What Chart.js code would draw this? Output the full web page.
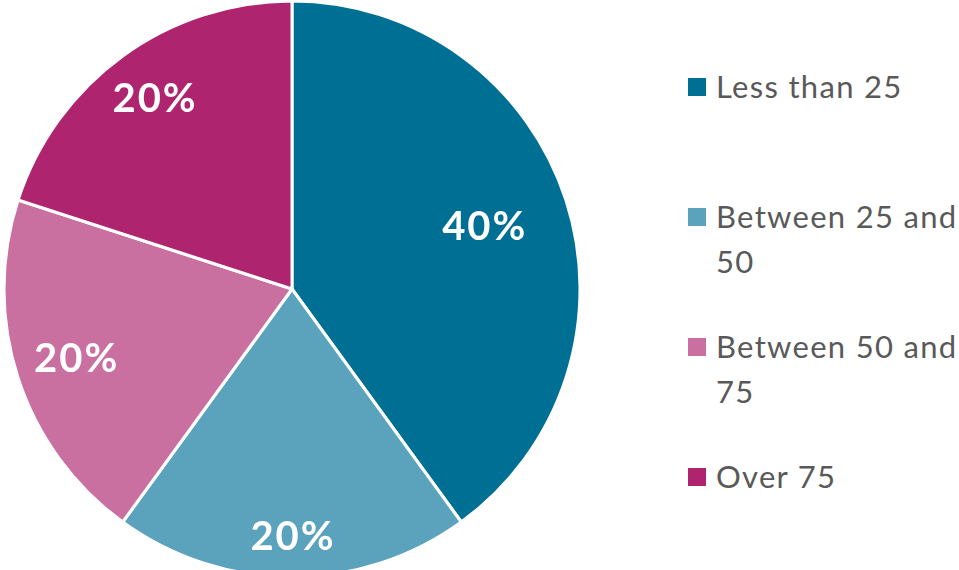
<!DOCTYPE html>
<html>
<head>
<meta charset="utf-8">
<script src="https://cdn.jsdelivr.net/npm/chart.js@4"></script>
<style>
    html, body { margin: 0; padding: 0; background: #fff; }
    body { width: 959px; height: 570px; overflow: hidden; position: relative; font-family: Lato, "Open Sans", sans-serif; }
    #pie-wrap { position: absolute; left: -8px; top: -11px; width: 600px; height: 600px; }
    #legend { position: absolute; left: 688px; top: 64px; width: 271px; }
    .legend-item { height: 130px; display: flex; align-items: flex-start; }
    .legend-box { width: 18px; height: 18px; margin-top: 14px; margin-right: 10px; flex: none; }
    .legend-text { font-size: 31px; line-height: 45px; letter-spacing: 1.3px; color: #595959; width: 243px; }
</style>
</head>
<body>
<div id="pie-wrap"><canvas id="pie-chart" width="600" height="600"></canvas></div>
<div id="legend"></div>
<script>
    var categories = ['Less than 25', 'Between 25 and 50', 'Between 50 and 75', 'Over 75'];
    var shares = [40, 20, 20, 20];
    var sliceColors = ['#006f94', '#5ba3bd', '#c970a0', '#ae246f'];
    var pctLabels = ['40%', '20%', '20%', '20%'];

    // label distance from centre, as a fraction of the radius (Excel "best fit")
    var labelPlace = [0.70, 0.86, 0.79, 0.815];

    var pctLabelPlugin = {
        id: 'pctLabels',
        afterDatasetsDraw: function (chart) {
            var ctx = chart.ctx;
            var meta = chart.getDatasetMeta(0);
            ctx.save();
            ctx.fillStyle = '#ffffff';
            ctx.font = 'bold 40px Lato, "Open Sans", sans-serif';
            ctx.letterSpacing = '2px';
            ctx.textAlign = 'center';
            ctx.textBaseline = 'middle';
            meta.data.forEach(function (arc, i) {
                var props = arc.getProps(['x', 'y', 'startAngle', 'endAngle', 'outerRadius']);
                var mid = (props.startAngle + props.endAngle) / 2;
                var r = props.outerRadius * labelPlace[i];
                // +1 makes up for the trailing letter spacing
                ctx.fillText(pctLabels[i], props.x + Math.cos(mid) * r + 1, props.y + Math.sin(mid) * r);
            });
            ctx.restore();
        }
    };

    new Chart(document.getElementById('pie-chart'), {
        type: 'pie',
        data: {
            labels: categories,
            datasets: [{
                data: shares,
                backgroundColor: sliceColors,
                borderColor: '#ffffff',
                borderWidth: 3
            }]
        },
        options: {
            responsive: false,
            animation: false,
            radius: 288,
            layout: { padding: 0 },
            plugins: {
                legend: { display: false },
                tooltip: { enabled: false }
            }
        },
        plugins: [pctLabelPlugin]
    });

    var legend = document.getElementById('legend');
    categories.forEach(function (name, i) {
        var item = document.createElement('div');
        item.className = 'legend-item';
        var box = document.createElement('div');
        box.className = 'legend-box';
        box.style.background = sliceColors[i];
        var text = document.createElement('div');
        text.className = 'legend-text';
        text.textContent = name;
        item.appendChild(box);
        item.appendChild(text);
        legend.appendChild(item);
    });
</script>
</body>
</html>
